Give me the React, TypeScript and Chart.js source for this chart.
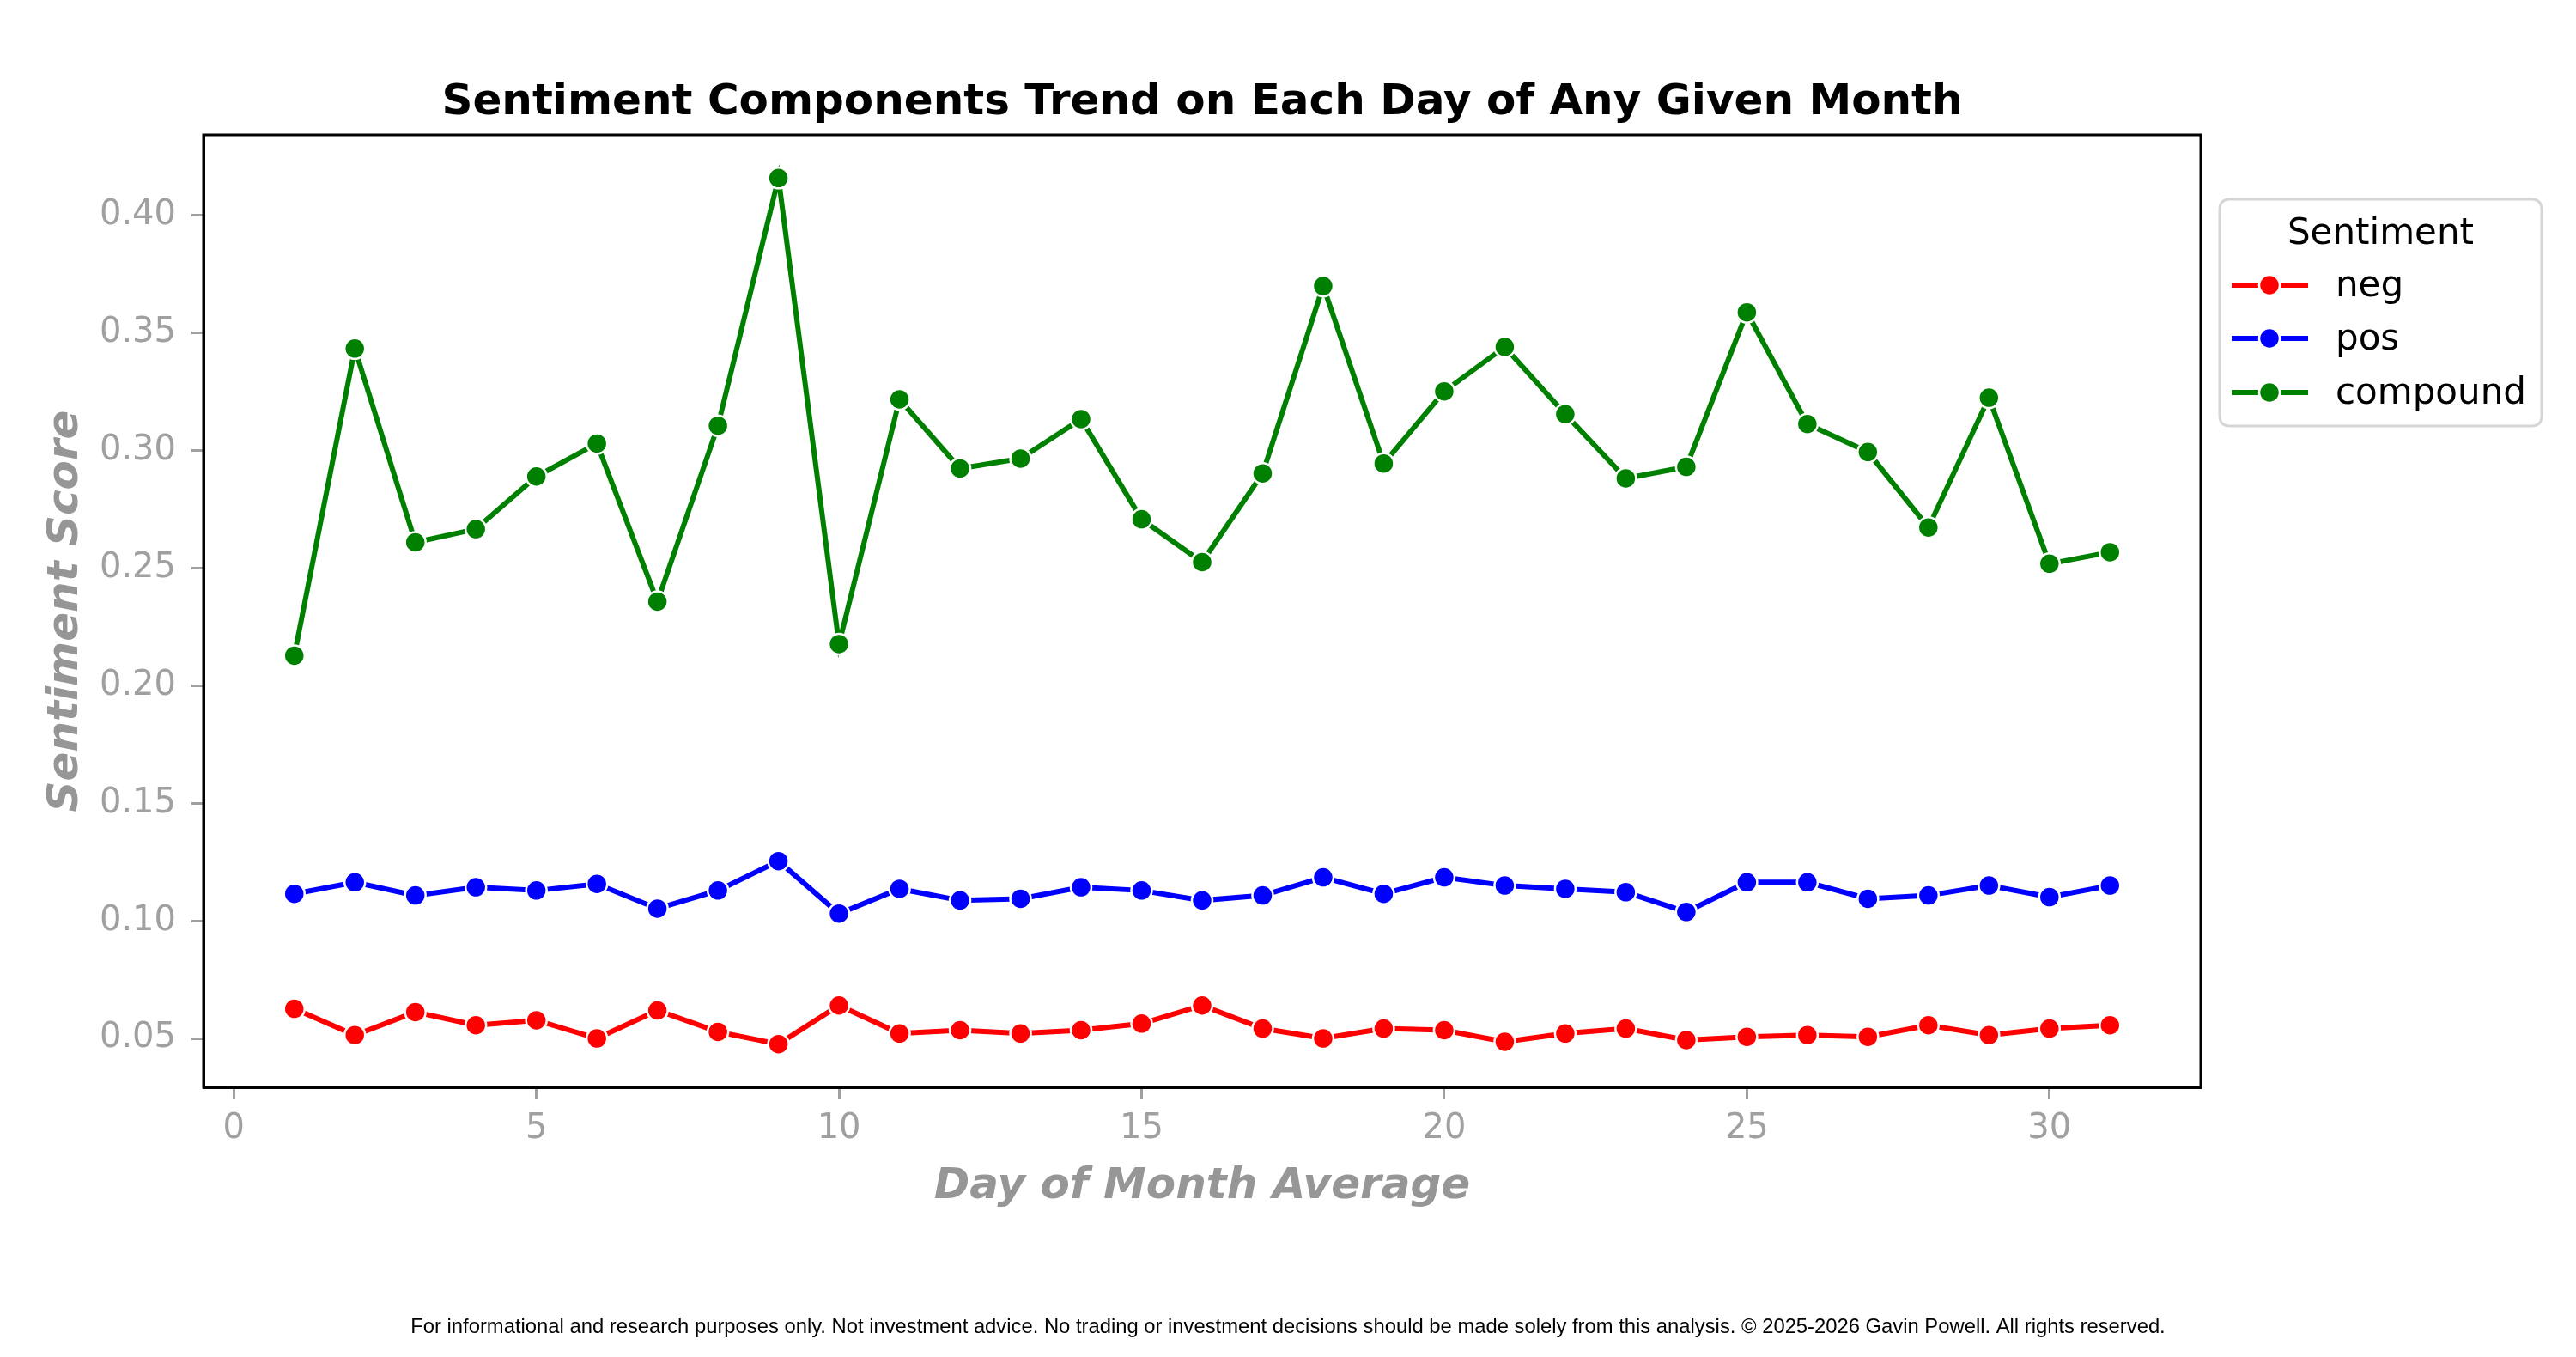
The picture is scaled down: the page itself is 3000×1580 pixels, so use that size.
import React, { useEffect, useRef } from "react";
import { Chart, registerables } from "chart.js";

Chart.register(...registerables);

const days: number[] = Array.from({ length: 31 }, (_, i) => i + 1);

const negValues: number[] = [
  0.0626, 0.0514, 0.0612, 0.0556, 0.0577, 0.05, 0.0619, 0.0528, 0.0476, 0.064,
  0.0521, 0.0535, 0.0521, 0.0535, 0.0563, 0.064, 0.0542, 0.05, 0.0542, 0.0535,
  0.0486, 0.0521, 0.0542, 0.0493, 0.0507, 0.0514, 0.0507, 0.0556, 0.0514, 0.0542,
  0.0556,
];

const posValues: number[] = [
  0.1115, 0.1164, 0.1108, 0.1143, 0.1129, 0.1157, 0.1052, 0.1129, 0.1254, 0.1031,
  0.1136, 0.1087, 0.1094, 0.1143, 0.1129, 0.1087, 0.1108, 0.1185, 0.1115, 0.1185,
  0.115, 0.1136, 0.1122, 0.1038, 0.1164, 0.1164, 0.1094, 0.1108, 0.115, 0.1101,
  0.115,
];

const compoundValues: number[] = [
  0.2128, 0.3434, 0.261, 0.2666, 0.289, 0.303, 0.2358, 0.3106, 0.4159, 0.2177,
  0.3218, 0.2924, 0.2966, 0.3134, 0.2708, 0.2526, 0.2903, 0.37, 0.2945, 0.3252,
  0.3441, 0.3155, 0.2882, 0.2931, 0.3588, 0.3113, 0.2994, 0.2673, 0.3225, 0.2519,
  0.2568,
];

const seriesLabels: string[] = ["neg", "pos", "compound"];
const seriesColors: string[] = ["#ff0000", "#0000ff", "#008000"];

const xTickValues: number[] = [0, 5, 10, 15, 20, 25, 30];
const yTickValues: number[] = [0.05, 0.1, 0.15, 0.2, 0.25, 0.3, 0.35, 0.4];

const titleText = "Sentiment Components Trend on Each Day of Any Given Month";
const xAxisTitle = "Day of Month Average";
const yAxisTitle = "Sentiment Score";
const legendTitle = "Sentiment";
const footerText =
  "For informational and research purposes only. Not investment advice. No trading or investment decisions should be made solely from this analysis. © 2025-2026 Gavin Powell. All rights reserved.";

const W = 3000;
const H = 1580;
const AREA = { left: 237, right: 2563, top: 157, bottom: 1266 };
const GRAY = "#a0a0a0";
const LABEL_GRAY = "#969696";
const FONT = "'DejaVu Sans', sans-serif";

const decorPlugin = {
  id: "decor",
  afterDraw(chart: any) {
    const ctx = chart.ctx as CanvasRenderingContext2D;
    const ca = chart.chartArea;
    ctx.save();
    // frame (top & right spines)
    ctx.strokeStyle = "#000";
    ctx.lineWidth = 3;
    ctx.strokeRect(ca.left, ca.top, ca.right - ca.left, ca.bottom - ca.top);

    // title
    ctx.fillStyle = "#000";
    ctx.font = `bold 50px ${FONT}`;
    ctx.textAlign = "center";
    ctx.textBaseline = "alphabetic";
    ctx.fillText(titleText, (ca.left + ca.right) / 2, 133);

    // x axis title
    ctx.fillStyle = LABEL_GRAY;
    ctx.font = `italic bold 50px ${FONT}`;
    ctx.fillText(xAxisTitle, (ca.left + ca.right) / 2, 1395);

    // y axis title
    ctx.save();
    ctx.translate(90, (ca.top + ca.bottom) / 2);
    ctx.rotate(-Math.PI / 2);
    ctx.fillText(yAxisTitle, 0, 0);
    ctx.restore();

    // footer
    ctx.fillStyle = "#000";
    ctx.font = `23.8px 'Liberation Sans', Arial, sans-serif`;
    ctx.fillText(footerText, W / 2, 1552);

    // legend
    const lx = 2585, ly = 232, lw = 375, lh = 264, r = 12;
    ctx.beginPath();
    ctx.moveTo(lx + r, ly);
    ctx.lineTo(lx + lw - r, ly);
    ctx.quadraticCurveTo(lx + lw, ly, lx + lw, ly + r);
    ctx.lineTo(lx + lw, ly + lh - r);
    ctx.quadraticCurveTo(lx + lw, ly + lh, lx + lw - r, ly + lh);
    ctx.lineTo(lx + r, ly + lh);
    ctx.quadraticCurveTo(lx, ly + lh, lx, ly + lh - r);
    ctx.lineTo(lx, ly + r);
    ctx.quadraticCurveTo(lx, ly, lx + r, ly);
    ctx.closePath();
    ctx.fillStyle = "rgba(255,255,255,0.8)";
    ctx.fill();
    ctx.strokeStyle = "#d6d6d6";
    ctx.lineWidth = 3;
    ctx.stroke();

    ctx.fillStyle = "#000";
    ctx.font = `42px ${FONT}`;
    ctx.textAlign = "center";
    ctx.fillText(legendTitle, lx + lw / 2, 284);

    const rows = [332, 394, 457];
    chart.data.datasets.forEach((ds: any, i: number) => {
      const y = rows[i];
      ctx.strokeStyle = ds.borderColor;
      ctx.lineWidth = 6;
      ctx.beginPath();
      ctx.moveTo(2599, y);
      ctx.lineTo(2688, y);
      ctx.stroke();
      ctx.beginPath();
      ctx.arc(2643, y, 12, 0, Math.PI * 2);
      ctx.fillStyle = ds.borderColor;
      ctx.fill();
      ctx.strokeStyle = "#fff";
      ctx.lineWidth = 2.5;
      ctx.stroke();
      ctx.fillStyle = "#000";
      ctx.textAlign = "left";
      ctx.font = `42px ${FONT}`;
      ctx.fillText(ds.label, 2720, y + 13);
    });
    ctx.restore();
  },
};

export default function App() {
  const canvasRef = useRef<HTMLCanvasElement | null>(null);

  useEffect(() => {
    document.body.style.margin = "0";
    const canvas = canvasRef.current;
    if (!canvas) return;
    const valuesList = [negValues, posValues, compoundValues];
    const chart = new Chart(canvas, {
      type: "line",
      data: {
        datasets: seriesLabels.map((label, i) => ({
          label,
          data: days.map((d, j) => ({ x: d, y: valuesList[i][j] })),
          borderColor: seriesColors[i],
          backgroundColor: seriesColors[i],
          borderWidth: 6,
          pointRadius: 12,
          pointBackgroundColor: seriesColors[i],
          pointBorderColor: "#ffffff",
          pointBorderWidth: 2.5,
          tension: 0,
          fill: false,
        })),
      },
      options: {
        responsive: false,
        animation: false,
        devicePixelRatio: 1,
        layout: {
          padding: { top: AREA.top, right: W - AREA.right, left: 0, bottom: 0 },
        },
        plugins: {
          legend: { display: false },
          title: { display: false },
          tooltip: { enabled: false },
        },
        scales: {
          x: {
            type: "linear",
            min: -0.5,
            max: 32.5,
            afterBuildTicks: (scale: any) => {
              scale.ticks = xTickValues.map((v) => ({ value: v }));
            },
            afterFit: (scale: any) => {
              scale.height = H - AREA.bottom;
            },
            ticks: {
              color: GRAY,
              font: { family: FONT, size: 40 },
              padding: 11,
              maxRotation: 0,
              autoSkip: false,
              callback: (v: any) => String(v),
            },
            grid: {
              drawOnChartArea: false,
              drawTicks: true,
              tickLength: 14,
              tickWidth: 3,
              tickColor: GRAY,
            },
            border: { display: true, color: "#000", width: 3 },
          },
          y: {
            type: "linear",
            min: 0.0292,
            max: 0.4343,
            afterBuildTicks: (scale: any) => {
              scale.ticks = yTickValues.map((v) => ({ value: v }));
            },
            afterFit: (scale: any) => {
              scale.width = AREA.left;
            },
            ticks: {
              color: GRAY,
              font: { family: FONT, size: 40 },
              padding: 18,
              autoSkip: false,
              callback: (v: any) => Number(v).toFixed(2),
            },
            grid: {
              drawOnChartArea: false,
              drawTicks: true,
              tickLength: 14,
              tickWidth: 3,
              tickColor: GRAY,
            },
            border: { display: true, color: "#000", width: 3 },
          },
        },
      },
      plugins: [decorPlugin],
    } as any);
    return () => chart.destroy();
  }, []);

  return (
    <div style={{ width: W, height: H, background: "#fff" }}>
      <canvas ref={canvasRef} width={W} height={H} style={{ display: "block", width: W, height: H }} />
    </div>
  );
}
